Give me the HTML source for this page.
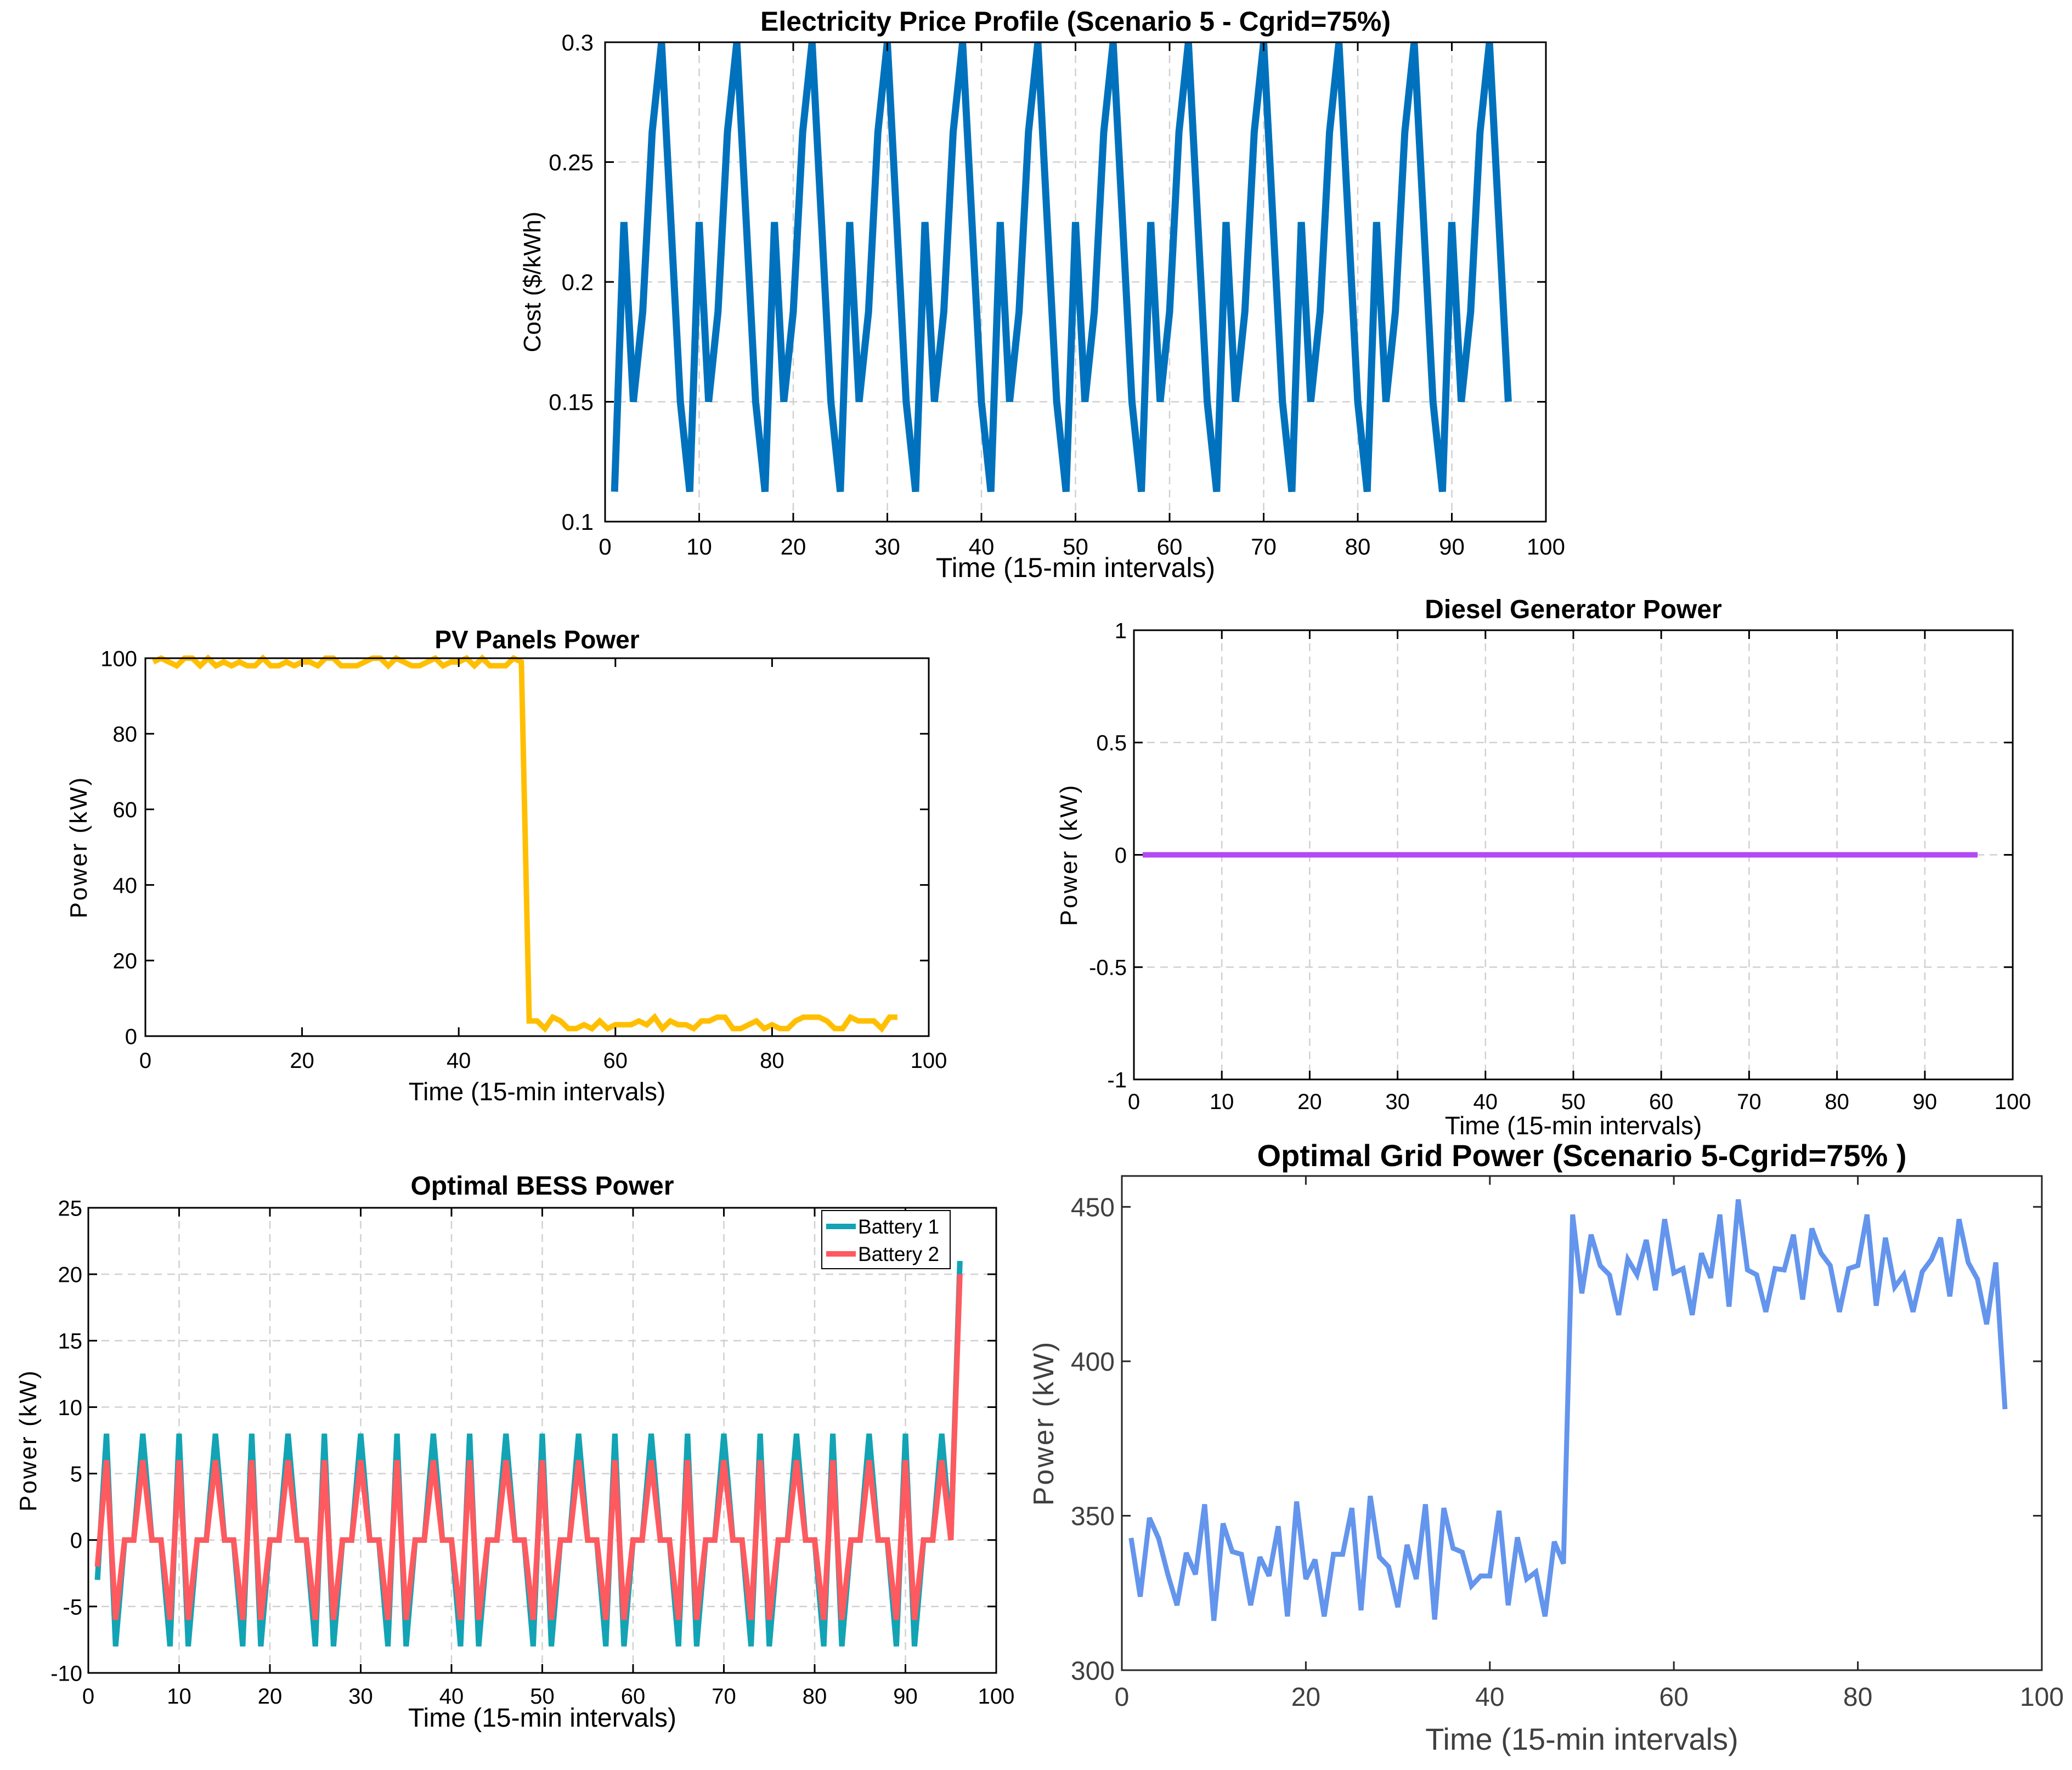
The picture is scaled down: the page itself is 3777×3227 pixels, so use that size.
<!DOCTYPE html>
<html><head><meta charset="utf-8"><style>
html,body{margin:0;padding:0;background:#fff;}
svg{display:block;font-family:"Liberation Sans",Arial,sans-serif;}
</style></head><body>
<svg id="fig" width="3777" height="3227" viewBox="0 0 3777 3227" xmlns="http://www.w3.org/2000/svg">
<rect width="3777" height="3227" fill="#fff"/>
</svg>
<script>
const timeSteps = [];
for (let i = 1; i <= 96; i++) timeSteps.push(i);
const priceValues = [0.1125,0.225,0.15,0.1875,0.2625,0.3,0.225,0.15,0.1125,0.225,0.15,0.1875,0.2625,0.3,0.225,0.15,0.1125,0.225,0.15,0.1875,0.2625,0.3,0.225,0.15,0.1125,0.225,0.15,0.1875,0.2625,0.3,0.225,0.15,0.1125,0.225,0.15,0.1875,0.2625,0.3,0.225,0.15,0.1125,0.225,0.15,0.1875,0.2625,0.3,0.225,0.15,0.1125,0.225,0.15,0.1875,0.2625,0.3,0.225,0.15,0.1125,0.225,0.15,0.1875,0.2625,0.3,0.225,0.15,0.1125,0.225,0.15,0.1875,0.2625,0.3,0.225,0.15,0.1125,0.225,0.15,0.1875,0.2625,0.3,0.225,0.15,0.1125,0.225,0.15,0.1875,0.2625,0.3,0.225,0.15,0.1125,0.225,0.15,0.1875,0.2625,0.3,0.225,0.15];
const pvValues = [99,100,99,98,100,100,98,100,98,99,98,99,98,98,100,98,98,99,98,99,99,98,100,100,98,98,98,99,100,100,98,100,99,98,98,99,100,98,99,99,100,98,100,98,98,98,100,99,4,4,2,5,4,2,2,3,2,4,2,3,3,3,4,3,5,2,4,3,3,2,4,4,5,5,2,2,3,4,2,3,2,2,4,5,5,5,4,2,2,5,4,4,4,2,5,5];
const dieselValues = [0,0,0,0,0,0,0,0,0,0,0,0,0,0,0,0,0,0,0,0,0,0,0,0,0,0,0,0,0,0,0,0,0,0,0,0,0,0,0,0,0,0,0,0,0,0,0,0,0,0,0,0,0,0,0,0,0,0,0,0,0,0,0,0,0,0,0,0,0,0,0,0,0,0,0,0,0,0,0,0,0,0,0,0,0,0,0,0,0,0,0,0,0,0,0,0];
const battery1Values = [-3,8,-8,0,0,8,0,0,-8,8,-8,0,0,8,0,0,-8,8,-8,0,0,8,0,0,-8,8,-8,0,0,8,0,0,-8,8,-8,0,0,8,0,0,-8,8,-8,0,0,8,0,0,-8,8,-8,0,0,8,0,0,-8,8,-8,0,0,8,0,0,-8,8,-8,0,0,8,0,0,-8,8,-8,0,0,8,0,0,-8,8,-8,0,0,8,0,0,-8,8,-8,0,0,8,0,21];
const battery2Values = [-2,6,-6,0,0,6,0,0,-6,6,-6,0,0,6,0,0,-6,6,-6,0,0,6,0,0,-6,6,-6,0,0,6,0,0,-6,6,-6,0,0,6,0,0,-6,6,-6,0,0,6,0,0,-6,6,-6,0,0,6,0,0,-6,6,-6,0,0,6,0,0,-6,6,-6,0,0,6,0,0,-6,6,-6,0,0,6,0,0,-6,6,-6,0,0,6,0,0,-6,6,-6,0,0,6,0,20];
const gridValues = [342.8,323.8,349.3,342.6,331,321,338,331,353.7,316,347.5,338.4,337.5,321,336.6,330.5,346.6,317.4,354.6,329.5,335.8,317.4,337.5,337.5,352.5,319.4,356.4,336.6,333.5,320.4,340.6,329.5,353.7,316.4,352.5,339.5,338.2,327.3,330.5,330.5,351.6,321,343,329.5,331.8,317.4,341.6,334.5,447.5,422,441,431,428,415,433,428,439.3,423,446,428.6,430,415,435,427,447.5,417.7,452.4,429.6,428,416,430,429.6,441,420,443,435,431,416,430,431,447.5,418,440,424,428,416,429,433,440,421,446,432,426.6,412,432,384.5];
const xTicks10 = [0,10,20,30,40,50,60,70,80,90,100];
const xTicks20 = [0,20,40,60,80,100];
const priceTicks = [0.1,0.15,0.2,0.25,0.3];
const priceTickLabels = ["0.1","0.15","0.2","0.25","0.3"];
const pvTicks = [0,20,40,60,80,100];
const dieselTicks = [-1,-0.5,0,0.5,1];
const bessTicks = [-10,-5,0,5,10,15,20,25];
const gridTicks = [300,350,400,450];

const NS = "http://www.w3.org/2000/svg";
const fig = document.getElementById('fig');
function mk(tag, attrs, parent) {
  const e = document.createElementNS(NS, tag);
  for (const k in attrs) e.setAttribute(k, attrs[k]);
  (parent || fig).appendChild(e);
  return e;
}
function chart(c) {
  const g = mk('g', {});
  
  
  const sx = v => c.x0 + (v - c.xmin) / (c.xmax - c.xmin) * (c.x1 - c.x0);
  const sy = v => c.y1 - (v - c.ymin) / (c.ymax - c.ymin) * (c.y1 - c.y0);
  const tc = c.tickColor || '#000';
  if (c.grid) {
    c.xt.forEach(v => {
      const l = mk('line', {x1: sx(v), x2: sx(v), y1: c.y0, y2: c.y1, stroke: '#d0d0d0', 'stroke-width': 2.5, 'stroke-dasharray': '14,10'}, g);
      
      
    });
    c.yt.forEach(v => {
      const l = mk('line', {x1: c.x0, x2: c.x1, y1: sy(v), y2: sy(v), stroke: '#d0d0d0', 'stroke-width': 2.5, 'stroke-dasharray': '14,10'}, g);
      
      
    });
  }
  c.series.forEach(s => {
    const pts = s.y.map((v, i) => sx(timeSteps[i]).toFixed(1) + ',' + sy(v).toFixed(1)).join(' ');
    const p = mk('polyline', {points: pts, fill: 'none', stroke: s.color, 'stroke-width': s.w, 'stroke-linejoin': 'miter', 'stroke-miterlimit': 3}, g);
    
    
  });
  const box = mk('rect', {x: c.x0, y: c.y0, width: c.x1 - c.x0, height: c.y1 - c.y0, fill: 'none', stroke: c.boxColor || '#000', 'stroke-width': 3}, g);
  
  
  const tl = 16;
  c.xt.forEach(v => {
    mk('line', {x1: sx(v), x2: sx(v), y1: c.y1, y2: c.y1 - tl, stroke: tc, 'stroke-width': 3}, g);
    mk('line', {x1: sx(v), x2: sx(v), y1: c.y0, y2: c.y0 + tl, stroke: tc, 'stroke-width': 3}, g);
    const t = mk('text', {x: sx(v), y: c.xtY, 'font-size': c.fs, 'text-anchor': 'middle', fill: c.textColor || '#000'}, g);
    t.textContent = String(v);
    
    
  });
  c.yt.forEach((v, i) => {
    mk('line', {x1: c.x0, x2: c.x0 + tl, y1: sy(v), y2: sy(v), stroke: tc, 'stroke-width': 3}, g);
    mk('line', {x1: c.x1, x2: c.x1 - tl, y1: sy(v), y2: sy(v), stroke: tc, 'stroke-width': 3}, g);
    const t = mk('text', {x: c.ytX, y: sy(v) + c.fs * 0.36, 'font-size': c.fs, 'text-anchor': 'end', fill: c.textColor || '#000'}, g);
    t.textContent = c.ytl ? c.ytl[i] : String(v);
    
    
  });
  const ti = mk('text', {x: (c.x0 + c.x1) / 2, y: c.titleY, 'font-size': c.tfs, 'font-weight': 'bold', 'text-anchor': 'middle', fill: '#000'}, g);
  ti.textContent = c.title;
  
  
  const xl = mk('text', {x: (c.x0 + c.x1) / 2, y: c.xlY, 'font-size': c.lfs, 'text-anchor': 'middle', fill: c.textColor || '#000'}, g);
  xl.textContent = 'Time (15-min intervals)';
  
  
  const ym = (c.y0 + c.y1) / 2;
  const yl = mk('text', {x: c.ylX, y: ym, 'font-size': c.ylfs || c.lfs, 'letter-spacing': c.yls || 0, 'text-anchor': 'middle', fill: c.textColor || '#000', transform: 'rotate(-90 ' + c.ylX + ' ' + ym + ')'}, g);
  yl.textContent = c.ylabel;
  
  
  return {g, sx, sy};
}

chart({name: 'price-chart', x0: 1103, x1: 2818, y0: 77, y1: 951, xmin: 0, xmax: 100, ymin: 0.1, ymax: 0.3,
  xt: xTicks10, yt: priceTicks, ytl: priceTickLabels, grid: true, fs: 42, tfs: 50, lfs: 50, ylfs: 44,
  xtY: 1011, ytX: 1082, titleY: 56, xlY: 1052, ylX: 985, title: 'Electricity Price Profile (Scenario 5 - Cgrid=75%)', ylabel: 'Cost ($/kWh)',
  series: [{name: 'price-line', y: priceValues, color: '#0072BD', w: 13}]});

chart({name: 'pv-chart', x0: 265, x1: 1693, y0: 1200, y1: 1889, xmin: 0, xmax: 100, ymin: 0, ymax: 100,
  xt: xTicks20, yt: pvTicks, grid: false, fs: 40, tfs: 46, lfs: 46, ylfs: 44, yls: 3,
  xtY: 1947, ytX: 250, titleY: 1182, xlY: 2006, ylX: 158, title: 'PV Panels Power', ylabel: 'Power (kW)',
  series: [{name: 'pv-line', y: pvValues, color: '#FFBF00', w: 10}]});

chart({name: 'diesel-chart', x0: 2067, x1: 3669, y0: 1149, y1: 1968, xmin: 0, xmax: 100, ymin: -1, ymax: 1,
  xt: xTicks10, yt: dieselTicks, grid: true, fs: 40, tfs: 48, lfs: 46, ylfs: 44, yls: 3,
  xtY: 2022, ytX: 2054, titleY: 1127, xlY: 2068, ylX: 1963, title: 'Diesel Generator Power', ylabel: 'Power (kW)',
  series: [{name: 'diesel-line', y: dieselValues, color: '#B24BF3', w: 10}]});

chart({name: 'bess-chart', x0: 161, x1: 1816, y0: 2202, y1: 3050, xmin: 0, xmax: 100, ymin: -10, ymax: 25,
  xt: xTicks10, yt: bessTicks, grid: true, fs: 40, tfs: 48, lfs: 48, ylfs: 44, yls: 3,
  xtY: 3106, ytX: 150, titleY: 2178, xlY: 3148, ylX: 66, title: 'Optimal BESS Power', ylabel: 'Power (kW)',
  series: [{name: 'battery-1-line', y: battery1Values, color: '#12A4B4', w: 10},
           {name: 'battery-2-line', y: battery2Values, color: '#FF5A5F', w: 10}]});

chart({name: 'grid-chart', x0: 2045, x1: 3722, y0: 2144, y1: 3045, xmin: 0, xmax: 100, ymin: 300, ymax: 460,
  xt: xTicks20, yt: gridTicks, grid: false, fs: 48, tfs: 56, lfs: 56, ylfs: 52, yls: 3, textColor: '#404040', tickColor: '#262626', boxColor: '#262626',
  xtY: 3110, ytX: 2032, titleY: 2126, xlY: 3190, ylX: 1920, title: 'Optimal Grid Power (Scenario 5-Cgrid=75%   )', ylabel: 'Power (kW)',
  series: [{name: 'grid-power-line', y: gridValues, color: '#6495ED', w: 9}]});

// BESS legend
const lg = mk('g', {});


mk('rect', {x: 1498, y: 2207, width: 234, height: 106, fill: '#fff', stroke: '#000', 'stroke-width': 2}, lg);
const legendNames = ['Battery 1', 'Battery 2'];
const legendColors = ['#12A4B4', '#FF5A5F'];
legendNames.forEach((n, i) => {
  const yy = 2236 + i * 50;
  const ln = mk('line', {x1: 1506, x2: 1560, y1: yy, y2: yy, stroke: legendColors[i], 'stroke-width': 10}, lg);
  
  
  const t = mk('text', {x: 1564, y: yy + 13, 'font-size': 37, fill: '#000'}, lg);
  t.textContent = n;
  
  
});
</script>
</body></html>
